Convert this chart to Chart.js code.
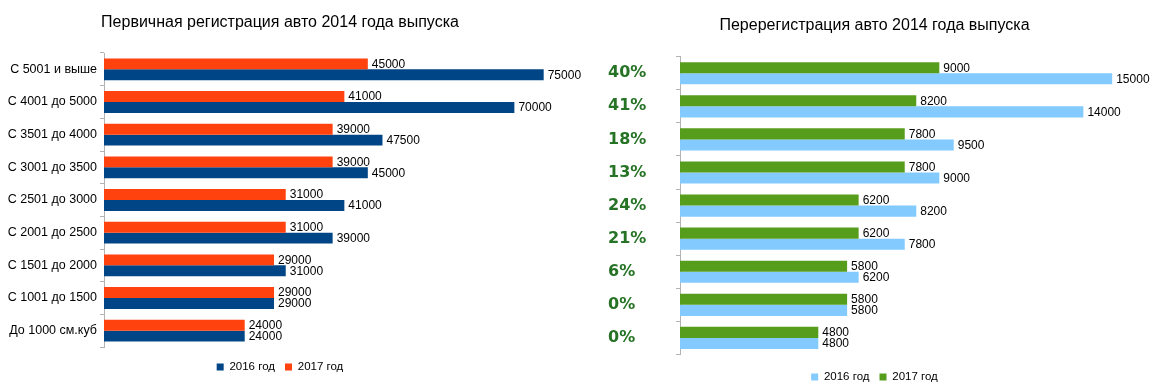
<!DOCTYPE html>
<html>
<head>
<meta charset="utf-8">
<script src="https://cdn.jsdelivr.net/npm/chart.js@4/dist/chart.umd.min.js"></script>
<style>
  html, body { margin: 0; padding: 0; background: #fff; overflow: hidden; }
  body { width: 1156px; height: 385px; position: relative; }
  canvas { position: absolute; top: 0; }
  #leftChart { left: -13px; }
  #rightChart { left: 590px; }
</style>
</head>
<body>
<canvas id="leftChart" width="600" height="385"></canvas>
<canvas id="rightChart" width="565" height="393"></canvas>
<script>
const categories = ['С 5001 и выше', 'С 4001 до 5000', 'С 3501 до 4000', 'С 3001 до 3500', 'С 2501 до 3000',
                    'С 2001 до 2500', 'С 1501 до 2000', 'С 1001 до 1500', 'До 1000 см.куб'];
const primary2016 = [75000, 70000, 47500, 45000, 41000, 39000, 31000, 29000, 24000];
const primary2017 = [45000, 41000, 39000, 39000, 31000, 31000, 29000, 29000, 24000];
const rereg2016 = [15000, 14000, 9500, 9000, 8200, 7800, 6200, 5800, 4800];
const rereg2017 = [9000, 8200, 7800, 7800, 6200, 6200, 5800, 5800, 4800];
const growth = ['40%', '41%', '18%', '13%', '24%', '21%', '6%', '0%', '0%'];

Chart.defaults.font.family = '"Liberation Sans", Arial, sans-serif';
Chart.defaults.color = '#000';

// подписи значений справа от столбцов
const valueLabels = {
    id: 'valueLabels',
    afterDatasetsDraw(chart) {
        const ctx = chart.ctx;
        ctx.save();
        ctx.font = '12px "Liberation Sans", Arial, sans-serif';
        ctx.fillStyle = '#000';
        ctx.textBaseline = 'middle';
        ctx.textAlign = 'left';
        chart.data.datasets.forEach((ds, i) => {
            chart.getDatasetMeta(i).data.forEach((bar, j) => {
                ctx.fillText(ds.data[j], bar.x + 4, bar.y + 0.5);
            });
        });
        ctx.restore();
    }
};

function makeOptions(title, titlePadding, xMax, axisWidth, yTicks, legendGap, layoutPadding) {
    return {
        indexAxis: 'y',
        responsive: false,
        animation: false,
        devicePixelRatio: 1,
        layout: { padding: layoutPadding },
        plugins: {
            title: {
                display: true,
                text: title,
                color: '#000',
                font: { size: 16, weight: 'normal' },
                padding: titlePadding
            },
            legend: {
                position: 'bottom',
                labels: {
                    boxWidth: 7,
                    boxHeight: 7,
                    padding: 10,
                    font: { size: 11.5 },
                    sort: (a, b) => b.datasetIndex - a.datasetIndex
                }
            },
            tooltip: { enabled: false }
        },
        scales: {
            x: {
                min: 0, max: xMax,
                afterFit: (scale) => { scale.height = legendGap; },
                grid: { display: false },
                border: { display: false },
                ticks: { display: false }
            },
            y: {
                afterFit: (scale) => { scale.width = axisWidth; },
                border: { display: true, color: '#b3b3b3' },
                grid: { drawOnChartArea: false, color: '#b3b3b3', tickLength: 4, offset: true },
                ticks: yTicks
            }
        }
    };
}

new Chart(document.getElementById('leftChart'), {
    type: 'bar',
    data: {
        labels: categories,
        datasets: [
            { label: '2017 год', data: primary2017, backgroundColor: '#ff420e', barPercentage: 1, categoryPercentage: 0.67 },
            { label: '2016 год', data: primary2016, backgroundColor: '#004586', barPercentage: 1, categoryPercentage: 0.67 }
        ]
    },
    options: makeOptions('Первичная регистрация авто 2014 года выпуска', { top: 12.5, bottom: 21.3 }, 80000, 117,
        { padding: 3, font: { size: 12.5 }, color: '#000' }, 4.25, { left: 0, right: 14, top: 0, bottom: 2.25 }),
    plugins: [valueLabels]
});

new Chart(document.getElementById('rightChart'), {
    type: 'bar',
    data: {
        labels: categories,
        datasets: [
            { label: '2017 год', data: rereg2017, backgroundColor: '#579d1c', barPercentage: 1, categoryPercentage: 0.67 },
            { label: '2016 год', data: rereg2016, backgroundColor: '#83caff', barPercentage: 1, categoryPercentage: 0.67 }
        ]
    },
    options: makeOptions('Перерегистрация авто 2014 года выпуска', { top: 16, bottom: 21.5 }, 16000, 72,
        {
            crossAlign: 'far',
            color: '#267326',
            font: { size: 16, weight: 'bold', family: '"DejaVu Sans", sans-serif' },
            callback: (value, index) => growth[index]
        }, 6.75, { left: 18, right: 14, top: 0, bottom: 0.25 }),
    plugins: [valueLabels]
});
</script>
</body>
</html>
